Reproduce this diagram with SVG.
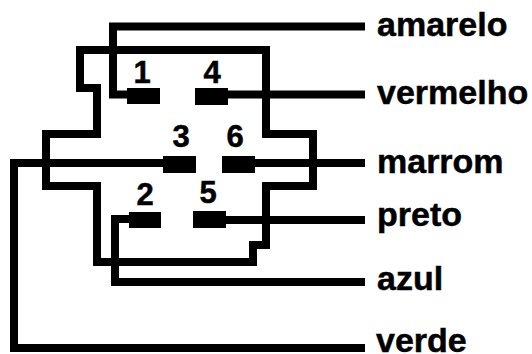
<svg xmlns="http://www.w3.org/2000/svg" width="532" height="354" viewBox="0 0 532 354">
<style>
.w{fill:none;stroke:#000;stroke-width:8;stroke-linejoin:miter}
.p{fill:#000}
.n{font:bold 31px "Liberation Sans",Arial,sans-serif;fill:#000;stroke:#000;stroke-width:.5;text-anchor:middle}
.l{font:bold 34px "Liberation Sans",Arial,sans-serif;fill:#000;stroke:#000;stroke-width:.5}
</style>
<rect width="532" height="354" fill="#fff"/>
<g id="housing"><path class="w" d="M80 50V88H97V134H46V186H97V262H253V245H266V186H313V134H266V50Z"/></g>
<g id="connectors">
<path class="w" d="M365 26.500H113V94.500H130"/>
<path class="w" d="M225 94.500H365"/>
<path class="w" d="M165 163H14V348H365"/>
<path class="w" d="M252 163H365"/>
<path class="w" d="M132 219H115V282H365"/>
<path class="w" d="M223 220H365"/>
</g>
<g id="pin1"><rect class="p" x="127" y="88" width="33" height="16"/><text class="n" x="142" y="83">1</text></g>
<g id="pin4"><rect class="p" x="195" y="88" width="33" height="17"/><text class="n" x="212" y="83">4</text></g>
<g id="pin3"><rect class="p" x="163" y="156" width="33" height="17"/><text class="n" x="181" y="147">3</text></g>
<g id="pin6"><rect class="p" x="222" y="156" width="33" height="17"/><text class="n" x="235" y="147">6</text></g>
<g id="pin2"><rect class="p" x="129" y="212" width="32" height="16"/><text class="n" x="145" y="205">2</text></g>
<g id="pin5"><rect class="p" x="193" y="211" width="33" height="17"/><text class="n" x="208" y="203">5</text></g>
<g id="label-amarelo"><text class="l" x="377" y="36">amarelo</text></g>
<g id="label-vermelho"><text class="l" x="377" y="104">vermelho</text></g>
<g id="label-marrom"><text class="l" x="377" y="173">marrom</text></g>
<g id="label-preto"><text class="l" x="377" y="226">preto</text></g>
<g id="label-azul"><text class="l" x="377" y="290">azul</text></g>
<g id="label-verde"><text class="l" x="376" y="352">verde</text></g>
</svg>
